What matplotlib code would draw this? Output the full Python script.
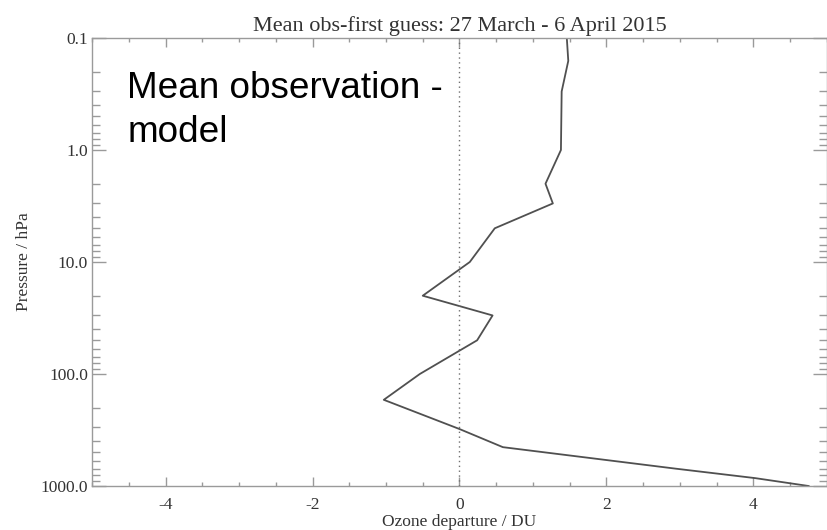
import matplotlib
matplotlib.use("Agg")
import matplotlib.pyplot as plt
from matplotlib.ticker import FixedLocator, MultipleLocator, NullFormatter

plt.rcParams["axes.unicode_minus"] = False

# Profile of mean obs - first guess
pressure = [0.1, 0.16, 0.3, 1.0, 2.0, 3.0, 5.0, 10.0, 20.0, 30.0, 50.0,
            100.0, 170.0, 310.0, 450.0, 700.0, 850.0, 1000.0]
departure = [1.46, 1.48, 1.39, 1.38, 1.17, 1.27, 0.48, 0.14, -0.50, 0.45, 0.24,
             -0.54, -1.03, 0.0, 0.59, 2.94, 4.02, 4.75]

y_ticks = [0.1, 1.0, 10.0, 100.0, 1000.0]
y_tick_labels = ["0.1", "1.0", "10.0", "100.0", "1000.0"]
x_ticks = [-4, -2, 0, 2, 4]

axis_grey = "#9a9a9a"
serif = ["Liberation Serif", "DejaVu Serif"]

fig = plt.figure(figsize=(8.28, 5.30), dpi=100)
ax = fig.add_axes([92 / 828, 44 / 530, 735 / 828, 448 / 530])

ax.plot(departure, pressure, color="#505050", lw=1.3)
ax.axvline(0, color="#707070", lw=1.0, ls=(0, (1, 2.5)))

ax.set_yscale("log")
ax.set_ylim(1000, 0.1)
ax.set_xlim(-5, 5)

ax.yaxis.set_major_locator(FixedLocator(y_ticks))
ax.set_yticklabels(y_tick_labels)
ax.yaxis.set_minor_formatter(NullFormatter())
ax.xaxis.set_major_locator(FixedLocator(x_ticks))
ax.xaxis.set_minor_locator(MultipleLocator(0.5))

for s in ax.spines.values():
    s.set_color(axis_grey)
    s.set_linewidth(1.0)

ax.tick_params(axis="both", which="both", direction="in", top=True, right=True,
               color=axis_grey, width=1.0)
ax.tick_params(axis="y", which="major", length=10, pad=3)
ax.tick_params(axis="y", which="minor", length=5.8)
ax.tick_params(axis="x", which="major", length=6.5, pad=8)
ax.tick_params(axis="x", which="minor", length=3.2)

for lab in ax.get_xticklabels() + ax.get_yticklabels():
    lab.set_family(serif)
    lab.set_fontsize(12.5)
    lab.set_color("#333333")

ax.set_title("Mean obs-first guess: 27 March - 6 April 2015", family=serif,
             fontsize=16, color="#333333", pad=5)
ax.set_xlabel("Ozone departure / DU", family=serif, fontsize=12.5,
              color="#333333", labelpad=1)
ax.set_ylabel("Pressure / hPa", family=serif, fontsize=12.5,
              color="#333333", labelpad=6)

ax.text(0.048, 1 - (98 - 38) / 448, "Mean observation -", transform=ax.transAxes,
        family="Liberation Sans", fontsize=26.6, va="baseline", ha="left")
ax.text(0.048, 1 - (141.5 - 38) / 448, "model", transform=ax.transAxes,
        family="Liberation Sans", fontsize=26.6, va="baseline", ha="left")

fig.savefig("out.png", dpi=100)
